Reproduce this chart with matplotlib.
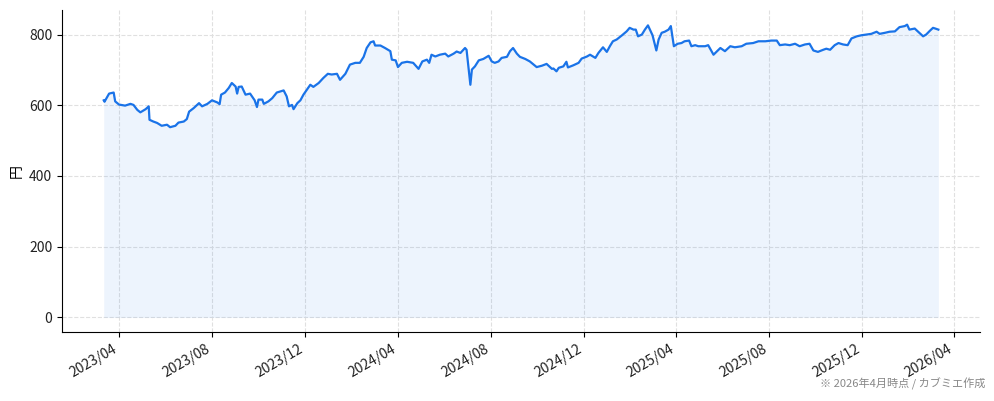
import numpy as np
import pandas as pd
import matplotlib
matplotlib.use("Agg")
import matplotlib.pyplot as plt
import matplotlib.dates as mdates

plt.rcParams['font.family'] = ['Noto Sans CJK JP', 'DejaVu Sans']

# price series (yen)
dates = [
    "2023-03-12", "2023-03-13", "2023-03-19", "2023-03-25", "2023-03-27", "2023-04-01",
    "2023-04-09", "2023-04-16", "2023-04-20", "2023-04-25", "2023-04-29", "2023-05-06",
    "2023-05-10", "2023-05-11", "2023-05-16", "2023-05-21", "2023-05-27", "2023-06-03",
    "2023-06-07", "2023-06-14", "2023-06-18", "2023-06-25", "2023-06-29", "2023-07-02",
    "2023-07-08", "2023-07-15", "2023-07-19", "2023-07-26", "2023-08-01", "2023-08-08",
    "2023-08-11", "2023-08-13", "2023-08-18", "2023-08-23", "2023-08-27", "2023-09-01",
    "2023-09-03", "2023-09-05", "2023-09-09", "2023-09-14", "2023-09-20", "2023-09-26",
    "2023-09-29", "2023-10-01", "2023-10-06", "2023-10-08", "2023-10-14", "2023-10-19",
    "2023-10-25", "2023-11-03", "2023-11-07", "2023-11-10", "2023-11-14", "2023-11-16",
    "2023-11-21", "2023-11-25", "2023-11-29", "2023-12-08", "2023-12-12", "2023-12-19",
    "2023-12-25", "2023-12-31", "2024-01-05", "2024-01-12", "2024-01-16", "2024-01-23",
    "2024-01-29", "2024-02-05", "2024-02-11", "2024-02-16", "2024-02-20", "2024-02-25",
    "2024-02-29", "2024-03-02", "2024-03-09", "2024-03-15", "2024-03-22", "2024-03-24",
    "2024-03-29", "2024-04-01", "2024-04-06", "2024-04-13", "2024-04-21", "2024-04-28",
    "2024-05-03", "2024-05-09", "2024-05-12", "2024-05-15", "2024-05-20", "2024-05-26",
    "2024-06-02", "2024-06-06", "2024-06-13", "2024-06-17", "2024-06-22", "2024-06-28",
    "2024-06-30", "2024-07-05", "2024-07-07", "2024-07-11", "2024-07-16", "2024-07-22",
    "2024-07-29", "2024-08-02", "2024-08-06", "2024-08-11", "2024-08-15", "2024-08-22",
    "2024-08-26", "2024-08-30", "2024-09-04", "2024-09-08", "2024-09-15", "2024-09-21",
    "2024-09-30", "2024-10-07", "2024-10-13", "2024-10-20", "2024-10-22", "2024-10-26",
    "2024-10-29", "2024-11-04", "2024-11-08", "2024-11-10", "2024-11-17", "2024-11-24",
    "2024-11-28", "2024-12-05", "2024-12-09", "2024-12-16", "2024-12-20", "2024-12-26",
    "2024-12-31", "2025-01-04", "2025-01-08", "2025-01-13", "2025-01-20", "2025-01-26",
    "2025-01-30", "2025-02-04", "2025-02-07", "2025-02-10", "2025-02-15", "2025-02-19",
    "2025-02-23", "2025-03-01", "2025-03-06", "2025-03-09", "2025-03-13", "2025-03-17",
    "2025-03-22", "2025-03-25", "2025-03-29", "2025-04-03", "2025-04-08", "2025-04-12",
    "2025-04-18", "2025-04-21", "2025-04-26", "2025-04-30", "2025-05-09", "2025-05-13",
    "2025-05-20", "2025-05-29", "2025-06-04", "2025-06-11", "2025-06-17", "2025-06-26",
    "2025-07-02", "2025-07-11", "2025-07-18", "2025-07-27", "2025-08-04", "2025-08-11",
    "2025-08-15", "2025-08-22", "2025-08-28", "2025-09-04", "2025-09-10", "2025-09-17",
    "2025-09-23", "2025-09-28", "2025-10-04", "2025-10-11", "2025-10-15", "2025-10-20",
    "2025-10-26", "2025-10-31", "2025-11-06", "2025-11-12", "2025-11-17", "2025-11-24",
    "2025-11-30", "2025-12-07", "2025-12-13", "2025-12-20", "2025-12-24", "2025-12-31",
    "2026-01-06", "2026-01-13", "2026-01-19", "2026-01-26", "2026-01-29", "2026-02-01",
    "2026-02-08", "2026-02-14", "2026-02-19", "2026-02-23", "2026-02-28", "2026-03-04",
    "2026-03-07", "2026-03-11",
]
prices = [
    614, 610, 633, 636, 611, 602,
    599, 604, 601, 587, 580, 589,
    597, 559, 554, 550, 542, 545,
    538, 542, 551, 554, 561, 582,
    592, 606, 597, 604, 614, 608,
    603, 630, 636, 649, 663, 653,
    633, 652, 653, 630, 633, 614,
    595, 616, 616, 604, 611, 620,
    636, 642, 625, 597, 601, 589,
    606, 614, 630, 658, 652, 663,
    677, 689, 687, 689, 672, 689,
    715, 720, 720, 737, 762, 778,
    781, 769, 769, 762, 753, 729,
    727, 708, 720, 723, 720, 703,
    724, 729, 720, 743, 738, 743,
    746, 738, 746, 752, 748, 762,
    757, 658, 701, 710, 727, 731,
    740, 724, 720, 724, 734, 737,
    753, 762, 746, 737, 731, 724,
    708, 712, 717, 703, 704, 696,
    706, 710, 723, 707, 713, 720,
    732, 738, 743, 734, 748, 764,
    751, 767, 781, 786, 798, 809,
    819, 814, 814, 795, 800, 814,
    826, 798, 755, 786, 805, 808,
    814, 824, 767, 774, 776, 781,
    783, 767, 770, 767, 767, 770,
    743, 762, 753, 767, 764, 767,
    774, 776, 781, 781, 783, 783,
    770, 772, 770, 774, 767, 772,
    774, 755, 751, 757, 760, 757,
    770, 776, 772, 770, 789, 795,
    798, 800, 802, 808, 802, 805,
    808, 809, 821, 824, 828, 814,
    817, 805, 795, 800, 811, 819,
    817, 814,
]

x = pd.to_datetime(dates)
y = np.array(prices)

fig, ax = plt.subplots(figsize=(9.94, 4.01), dpi=100)

ax.plot(x, y, color="#1a73e8", lw=1.6)
ax.fill_between(x, y, 0, color="#1a73e8", alpha=0.08, lw=0)

ax.grid(True, ls="--", color="#e0e0e0", lw=0.8)
ax.set_axisbelow(True)
ax.spines["top"].set_visible(False)
ax.spines["right"].set_visible(False)
ax.set_ylabel("円")
ax.tick_params(labelcolor="#222222")

ax.xaxis.set_major_locator(mdates.MonthLocator(bymonth=[4, 8, 12]))
ax.xaxis.set_major_formatter(mdates.DateFormatter("%Y/%m"))
ax.set_yticks([0, 200, 400, 600, 800])
fig.autofmt_xdate(rotation=30, ha="right")
fig.subplots_adjust(left=0.0624, right=0.986, top=0.975, bottom=0.172)

fig.text(0.991, 0.028, "※ 2026年4月時点 / カブミエ作成", ha="right", va="bottom",
         fontsize=8, color="#888888")

fig.savefig("out.png", dpi=100)
